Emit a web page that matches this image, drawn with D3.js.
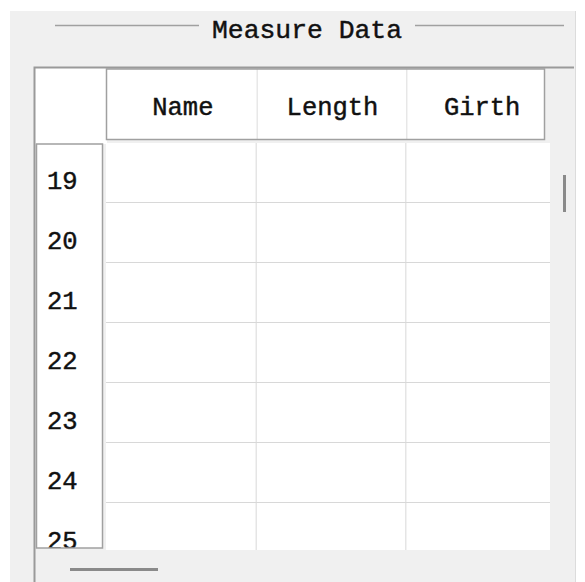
<!DOCTYPE html>
<html>
<head>
<meta charset="utf-8">
<script src="https://cdn.jsdelivr.net/npm/d3@7"></script>
<style>
  html, body { margin: 0; padding: 0; background: #fff; }
  svg { display: block; }
  text { font-family: "Liberation Mono", "DejaVu Sans Mono", monospace; fill: #111; stroke: #111; stroke-width: 0.45px; }
</style>
</head>
<body>
<svg id="chart" width="585" height="582"></svg>
<script>
// table content
const title = 'Measure Data';
const columns = ['Name', 'Length', 'Girth'];
const rowLabels = ['19', '20', '21', '22', '23', '24', '25'];
const cellValues = [
    ['', '', ''], ['', '', ''], ['', '', ''], ['', '', ''],
    ['', '', ''], ['', '', ''], ['', '', '']
];

const svg = d3.select('#chart');
const W = 585, H = 582;

// frame geometry
const dataBox = { x0: 106, y0: 143, x1: 550, y1: 550 };
const headBox = { x0: 107, y0: 69, x1: 545, y1: 140 };
const rowBox = { x0: 36, y0: 144, x1: 102, y1: 548 };

const x = d3.scaleBand().domain(columns).range([107, 556]);
const y = d3.scaleBand().domain(rowLabels).range([143, 563]);

// window background
svg.append('rect').attr('width', W).attr('height', H).attr('fill', '#ffffff');
svg.append('rect').attr('x', 10).attr('y', 11).attr('width', 565).attr('height', H - 11)
    .attr('fill', '#f0f0f0');

// group box title
svg.append('text')
    .attr('x', 307).attr('y', 38)
    .attr('text-anchor', 'middle')
    .attr('font-size', 26.4)
    .text(title);
svg.append('line').attr('x1', 55).attr('x2', 199).attr('y1', 25.5).attr('y2', 25.5)
    .attr('stroke', '#a0a0a0').attr('stroke-width', 1.5);
svg.append('line').attr('x1', 415).attr('x2', 564).attr('y1', 25.5).attr('y2', 25.5)
    .attr('stroke', '#a0a0a0').attr('stroke-width', 1.5);
svg.append('line').attr('x1', 575.5).attr('x2', 575.5).attr('y1', 11).attr('y2', H)
    .attr('stroke', '#dcdcdc').attr('stroke-width', 1);

// clips
const defs = svg.append('defs');
[['clip-data', dataBox], ['clip-head', headBox], ['clip-row', rowBox]].forEach(([id, b]) => {
    defs.append('clipPath').attr('id', id)
        .append('rect').attr('x', b.x0).attr('y', b.y0)
        .attr('width', b.x1 - b.x0).attr('height', b.y1 - b.y0);
});

// corner cell
svg.append('rect').attr('x', 35).attr('y', 68).attr('width', 72).attr('height', 76)
    .attr('fill', '#ffffff');

// data area
svg.append('rect').attr('x', dataBox.x0).attr('y', dataBox.y0)
    .attr('width', dataBox.x1 - dataBox.x0).attr('height', dataBox.y1 - dataBox.y0)
    .attr('fill', '#ffffff');

const grid = svg.append('g').attr('clip-path', 'url(#clip-data)');
grid.selectAll('line.h')
    .data(rowLabels)
    .join('line')
    .attr('class', 'h')
    .attr('x1', dataBox.x0).attr('x2', dataBox.x1)
    .attr('y1', (d) => y(d) + y.bandwidth() - 0.5)
    .attr('y2', (d) => y(d) + y.bandwidth() - 0.5)
    .attr('stroke', '#d8d8d8');
grid.selectAll('line.v')
    .data(columns)
    .join('line')
    .attr('class', 'v')
    .attr('x1', (d) => x(d) + x.bandwidth() - 0.5)
    .attr('x2', (d) => x(d) + x.bandwidth() - 0.5)
    .attr('y1', dataBox.y0).attr('y2', dataBox.y1)
    .attr('stroke', '#d8d8d8');

// cell values (empty)
rowLabels.forEach((r, i) => {
    grid.selectAll(null)
        .data(cellValues[i])
        .join('text')
        .attr('x', (d, j) => x(columns[j]) + x.bandwidth() / 2)
        .attr('y', y(r) + 45)
        .attr('text-anchor', 'middle')
        .attr('font-size', 24)
        .text((d) => d);
});

// column header
const head = svg.append('g').attr('clip-path', 'url(#clip-head)');
head.append('rect').attr('x', headBox.x0).attr('y', headBox.y0)
    .attr('width', headBox.x1 - headBox.x0).attr('height', headBox.y1 - headBox.y0)
    .attr('fill', '#ffffff');
head.selectAll('line')
    .data(columns)
    .join('line')
    .attr('x1', (d) => x(d) + x.bandwidth() + 0.5)
    .attr('x2', (d) => x(d) + x.bandwidth() + 0.5)
    .attr('y1', headBox.y0).attr('y2', headBox.y1)
    .attr('stroke', '#dcdcdc');
head.selectAll('text')
    .data(columns)
    .join('text')
    .attr('x', (d) => x(d) + x.bandwidth() / 2 + 1)
    .attr('y', 115)
    .attr('text-anchor', 'middle')
    .attr('font-size', 25.5)
    .text((d) => d);
svg.append('rect').attr('x', headBox.x0 - 0.5).attr('y', headBox.y0)
    .attr('width', headBox.x1 - headBox.x0).attr('height', headBox.y1 - headBox.y0 - 0.5)
    .attr('fill', 'none').attr('stroke', '#a0a0a0').attr('stroke-width', 1.5);

// row header
const rowG = svg.append('g').attr('clip-path', 'url(#clip-row)');
rowG.append('rect').attr('x', rowBox.x0).attr('y', rowBox.y0)
    .attr('width', rowBox.x1 - rowBox.x0).attr('height', rowBox.y1 - rowBox.y0)
    .attr('fill', '#ffffff');
rowG.selectAll('text')
    .data(rowLabels)
    .join('text')
    .attr('x', 47)
    .attr('y', (d) => y(d) + 46)
    .attr('font-size', 25.5)
    .text((d) => d);
svg.append('rect').attr('x', rowBox.x0 + 0.5).attr('y', rowBox.y0)
    .attr('width', rowBox.x1 - rowBox.x0).attr('height', rowBox.y1 - rowBox.y0)
    .attr('fill', 'none').attr('stroke', '#a0a0a0').attr('stroke-width', 1.5);

// outer table frame (top + left)
svg.append('path')
    .attr('d', `M34.5,${H} V67.5 H574`)
    .attr('fill', 'none').attr('stroke', '#9a9a9a').attr('stroke-width', 2);

// scroll thumbs
svg.append('line').attr('x1', 564.5).attr('x2', 564.5).attr('y1', 175).attr('y2', 212)
    .attr('stroke', '#8a8a8a').attr('stroke-width', 3);
svg.append('line').attr('x1', 70).attr('x2', 158).attr('y1', 569.5).attr('y2', 569.5)
    .attr('stroke', '#8a8a8a').attr('stroke-width', 3);
</script>
</body>
</html>
